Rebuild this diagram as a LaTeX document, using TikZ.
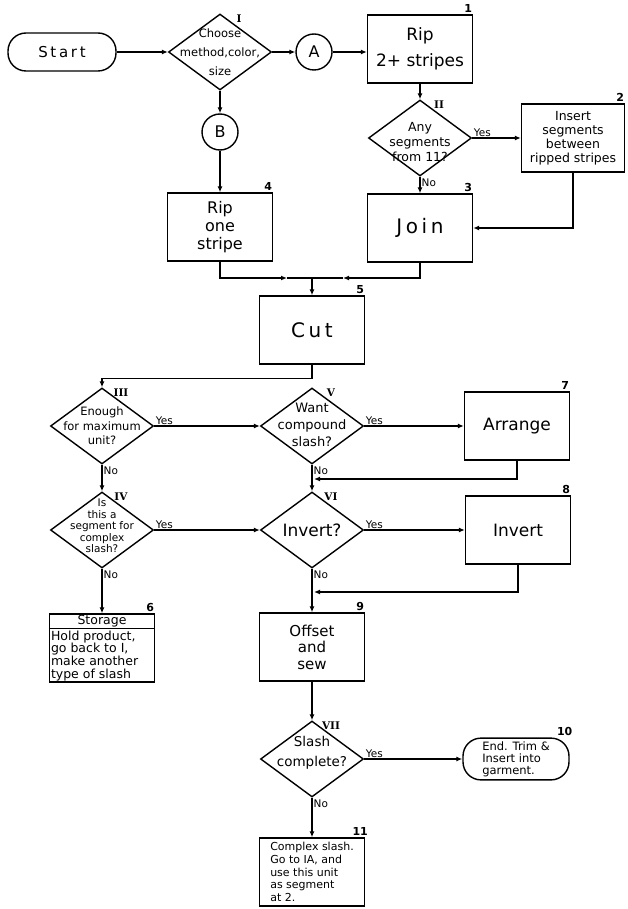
\documentclass[tikz,border=0pt]{standalone}
\usepackage{fontspec}
\setmainfont{DejaVu Sans}
\newfontfamily\spacedfont[LetterSpace=18]{DejaVu Sans}
\newfontfamily\romfont{DejaVu Serif}
\usetikzlibrary{shapes.geometric,arrows.meta}

\tikzset{
  ln/.style={line width=1.4pt},
  arr/.style={line width=1.4pt, -{Latex[length=6pt,width=5pt]}},
  box/.style={draw, ln, minimum width=105pt, minimum height=68pt, inner sep=2pt, align=center},
  dia/.style={draw, ln, diamond, minimum width=103pt, minimum height=76pt, inner sep=0pt},
  term/.style={draw, ln, rounded corners=18pt, minimum width=108pt, minimum height=38pt, align=center},
  conn/.style={draw, ln, circle, minimum size=36pt, inner sep=0pt, font=\fontsize{16}{16}\selectfont},
  yes/.style={font=\fontsize{10.5}{11}\selectfont, inner sep=1pt, pos=0, anchor=south west},
  no/.style={font=\fontsize{10.5}{11}\selectfont, inner sep=1pt, pos=0, anchor=north west},
  num/.style={font=\bfseries\fontsize{11}{11}\selectfont, inner sep=0pt},
  rom/.style={font=\romfont\bfseries\fontsize{10.5}{10.5}\selectfont, inner sep=0pt}
}

\begin{document}
\begin{tikzpicture}[x=1pt,y=-1pt]
\useasboundingbox (0,0) rectangle (628,909);

% top row
\node[term, font=\spacedfont\fontsize{15}{15}\selectfont] (start) at (62,52) {Start};
\node[dia] (d1) at (220,52) {};
\node[font=\fontsize{11.5}{19}\selectfont, align=center] (t1) at (d1) {Choose\\method,color,\\size};
\node[conn] (A) at (314,52) {A};
\node[conn] (B) at (220,132) {B};
\node[box, font=\fontsize{17}{26}\selectfont] (b1) at (420,49) {Rip\\2+ stripes};
\node[dia] (d2) at (420,138) {};
\node[font=\fontsize{12.5}{15}\selectfont, align=center] (t2) at (420,142) {Any\\segments\\from 11?};
\node[box, minimum width=103pt, font=\fontsize{12.5}{14}\selectfont] (b2) at (573,138) {Insert\\segments\\between\\ripped stripes};
\node[box, font=\spacedfont\fontsize{20}{20}\selectfont] (b3) at (420,228) {Join};
\node[box, font=\fontsize{16}{18}\selectfont] (b4) at (220,227) {Rip\\one\\stripe};
\node[box, font=\spacedfont\fontsize{20}{20}\selectfont] (b5) at (312,330) {Cut};

% middle
\node[dia] (d3) at (102,426) {};
\node[font=\fontsize{11.5}{14.5}\selectfont, align=center] (t3) at (d3) {Enough\\for maximum\\unit?};
\node[dia] (d5) at (312,426) {};
\node[font=\fontsize{13}{17}\selectfont, align=center] (t5) at (312,425) {Want\\compound\\slash?};
\node[box, font=\fontsize{17}{17}\selectfont] (b7) at (517,426) {Arrange};
\node[dia] (d4) at (102,530) {};
\node[font=\fontsize{10.5}{11.5}\selectfont, align=center] (t4) at (102,526) {Is\\this a\\segment for\\complex\\slash?};
\node[dia] (d6) at (312,530) {};
\node[font=\fontsize{17}{17}\selectfont] (t6) at (d6) {Invert?};
\node[box, font=\fontsize{17}{17}\selectfont] (b8) at (518,530) {Invert};

% storage box
\node[box] (b6) at (102,648) {};
\node[font=\fontsize{12.5}{12.5}\selectfont] (h6) at (102,622) {\underline{Storage}};
\draw[ln] ([yshift=-15pt]b6.north west) -- ([yshift=-15pt]b6.north east);
\node[font=\fontsize{12.5}{12.8}\selectfont, align=left, anchor=north west, inner sep=2pt] (s6) at ([yshift=-15pt]b6.north west) {Hold product,\\go back to I,\\make another\\type of slash};

% bottom
\node[box, font=\fontsize{15}{16.5}\selectfont] (b9) at (312,647) {Offset\\and\\sew};
\node[dia] (d7) at (312,759) {};
\node[font=\fontsize{13.5}{20}\selectfont, align=center] (t7) at (312,753) {Slash\\complete?};
\node[term, minimum width=106pt, minimum height=40pt, font=\fontsize{11.5}{12}\selectfont, align=left] (b10) at (516,759) {End. Trim \&\\Insert into\\garment.};
\node[box, inner sep=1.5pt, font=\fontsize{11}{12.8}\selectfont, align=left] (b11) at (312,872) {Complex slash.\\Go to IA, and\\use this unit\\as segment\\at 2.};

% numbers
\foreach \b/\n in {b1/1, b2/2, b3/3, b4/4, b5/5, b6/6, b7/7, b8/8, b9/9, b10/10, b11/11}
\node[num] (n-\b) at ([shift={(-5,-6)}]\b.north east) {\n};
\foreach \d/\r in {d1/I, d2/II, d3/III, d4/IV, d5/V, d6/VI, d7/VII}
\node[rom] (r-\d) at ([shift={(19,5)}]\d.north) {\r};

% connectors
\draw[arr] (start) -- (d1);
\draw[arr] (d1) -- (A);
\draw[arr] (d1) -- (B);
\draw[arr] (A) -- (A -| b1.west);
\draw[arr] (b1) -- (d2);
\draw[arr] (d2) -- node[yes] (y2) {Yes} (b2);
\draw[arr] (d2) -- node[no] (o2) {No} (b3);
\draw[arr] (b2.south) |- (b3.east);
\draw[arr] (B) -- (b4);
\coordinate (merge) at (312,278);
\coordinate (m4) at (287,278);
\coordinate (m3) at (343,278);
\draw[arr] (b4.south) |- (m4);
\draw[ln] (m4) -- (merge);
\draw[arr] (b3.south) |- (m3);
\draw[ln] (m3) -- (merge);
\draw[arr] (merge) -- (b5);
\draw[arr] (b5.south) -- ++(0,14) -| (d3.north);
\draw[arr] (d3) -- node[yes] (y3) {Yes} (d5);
\draw[arr] (d3) -- node[no] (o3) {No} (d4);
\draw[arr] (d5) -- node[yes] (y5) {Yes} (b7);
\draw[arr] (d5) -- node[no] (o5) {No} (d6);
\coordinate (j7) at (314,479);
\draw[arr] (b7.south) |- (j7);
\draw[arr] (d4) -- node[yes] (y4) {Yes} (d6);
\draw[arr] (d4) -- node[no] (o4) {No} (b6);
\draw[arr] (d6) -- node[yes] (y6) {Yes} (b8);
\draw[arr] (d6) -- node[no] (o6) {No} (b9);
\coordinate (j8) at (314,592);
\draw[arr] (b8.south) |- (j8);
\draw[arr] (b9) -- (d7);
\draw[arr] (d7) -- node[yes] (y7) {Yes} (b10);
\draw[arr] (d7) -- node[no] (o7) {No} (b11);
\end{tikzpicture}
\end{document}
